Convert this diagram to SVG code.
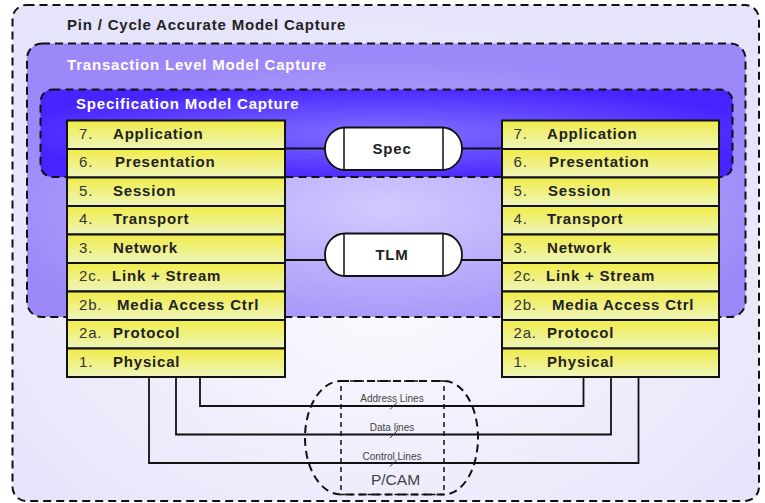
<svg xmlns="http://www.w3.org/2000/svg" width="765" height="503" viewBox="0 0 765 503">
<defs>
<radialGradient id="gOuter" cx="0.5" cy="0.6" r="0.6">
<stop offset="0" stop-color="#fafafe"/>
<stop offset="1" stop-color="#e6e4fa"/>
</radialGradient>
<radialGradient id="gTlm" cx="0.5" cy="0.6" r="0.55">
<stop offset="0" stop-color="#d2caff"/>
<stop offset="1" stop-color="#9c88f8"/>
</radialGradient>
<radialGradient id="gSpec" cx="0.5" cy="0.5" r="0.55">
<stop offset="0" stop-color="#8270ff"/>
<stop offset="1" stop-color="#4624ff"/>
</radialGradient>
<linearGradient id="gRow" x1="0" y1="0" x2="0" y2="1">
<stop offset="0" stop-color="#f1ec48"/>
<stop offset="1" stop-color="#eef5bc"/>
</linearGradient>
<style>
.box{stroke:#111;stroke-width:2;stroke-dasharray:8 5}
.title{font-family:"Liberation Sans",Arial,sans-serif;font-weight:bold;font-size:15px;letter-spacing:0.8px}
.row{fill:url(#gRow);stroke:#111;stroke-width:2}
.num{font-family:"Liberation Sans",Arial,sans-serif;font-size:15px;fill:#333;letter-spacing:0.8px}
.lbl{font-family:"Liberation Sans",Arial,sans-serif;font-weight:bold;font-size:15px;fill:#222;letter-spacing:0.8px}
.pill{fill:#fff;stroke:#111;stroke-width:1.8}
.wire{fill:none;stroke:#111;stroke-width:1.8}
.small{font-family:"Liberation Sans",Arial,sans-serif;font-size:10px;fill:#444}
</style>
</defs>

<g id="pin-cycle">
<rect x="12.5" y="5" width="746.5" height="496" rx="14" fill="url(#gOuter)" class="box"/>
<text x="67" y="29.5" class="title" fill="#222">Pin / Cycle Accurate Model Capture</text>
</g>

<g id="tlm-region">
<rect x="27" y="43.5" width="718.5" height="273.5" rx="15" fill="url(#gTlm)" class="box"/>
<text x="67" y="70" class="title" fill="#fff">Transaction Level Model Capture</text>
</g>

<g id="spec-region">
<rect x="40.5" y="89.5" width="692" height="87.5" rx="12" fill="url(#gSpec)" class="box"/>
<text x="76" y="108.5" class="title" fill="#fff">Specification Model Capture</text>
</g>

<g id="connectors">
<line x1="285" y1="148.5" x2="325" y2="148.5" class="wire"/>
<line x1="462" y1="148.5" x2="502" y2="148.5" class="wire"/>
<line x1="285" y1="260" x2="325" y2="260" class="wire"/>
<line x1="462" y1="260" x2="502" y2="260" class="wire"/>
<polyline points="200,377 200,406 583.5,406 583.5,377" class="wire"/>
<polyline points="176,377 176,434.5 611,434.5 611,377" class="wire"/>
<polyline points="149,377 149,463 638.5,463 638.5,377" class="wire"/>
<line x1="390" y1="409.5" x2="397" y2="402.5" stroke="#333" stroke-width="1"/>
<line x1="390" y1="438" x2="397" y2="431" stroke="#333" stroke-width="1"/>
<line x1="390" y1="466.5" x2="397" y2="459.5" stroke="#333" stroke-width="1"/>
<text x="392" y="401.5" class="small" text-anchor="middle">Address Lines</text>
<text x="392" y="430.5" class="small" text-anchor="middle">Data lines</text>
<text x="392" y="459.5" class="small" text-anchor="middle">Control Lines</text>
</g>

<g id="left-stack">
<rect x="67" y="120.5" width="218" height="28.5" class="row"/>
<rect x="67" y="149" width="218" height="28.5" class="row"/>
<rect x="67" y="177.5" width="218" height="28.5" class="row"/>
<rect x="67" y="206" width="218" height="28.5" class="row"/>
<rect x="67" y="234.5" width="218" height="28.5" class="row"/>
<rect x="67" y="263" width="218" height="28.5" class="row"/>
<rect x="67" y="291.5" width="218" height="28.5" class="row"/>
<rect x="67" y="320" width="218" height="28.5" class="row"/>
<rect x="67" y="348.5" width="218" height="28.5" class="row"/>
<text x="79" y="138.5" class="num">7.</text><text x="113" y="138.5" class="lbl">Application</text>
<text x="79" y="167" class="num">6.</text><text x="115" y="167" class="lbl">Presentation</text>
<text x="79" y="195.5" class="num">5.</text><text x="113" y="195.5" class="lbl">Session</text>
<text x="79" y="224" class="num">4.</text><text x="113" y="224" class="lbl">Transport</text>
<text x="79" y="252.5" class="num">3.</text><text x="113" y="252.5" class="lbl">Network</text>
<text x="79" y="281" class="num">2c.</text><text x="112" y="281" class="lbl">Link + Stream</text>
<text x="79" y="309.5" class="num">2b.</text><text x="117" y="309.5" class="lbl">Media Access Ctrl</text>
<text x="79" y="338" class="num">2a.</text><text x="113" y="338" class="lbl">Protocol</text>
<text x="79" y="366.5" class="num">1.</text><text x="113" y="366.5" class="lbl">Physical</text>
</g>

<g id="right-stack">
<rect x="502" y="120.5" width="217" height="28.5" class="row"/>
<rect x="502" y="149" width="217" height="28.5" class="row"/>
<rect x="502" y="177.5" width="217" height="28.5" class="row"/>
<rect x="502" y="206" width="217" height="28.5" class="row"/>
<rect x="502" y="234.5" width="217" height="28.5" class="row"/>
<rect x="502" y="263" width="217" height="28.5" class="row"/>
<rect x="502" y="291.5" width="217" height="28.5" class="row"/>
<rect x="502" y="320" width="217" height="28.5" class="row"/>
<rect x="502" y="348.5" width="217" height="28.5" class="row"/>
<text x="513.5" y="138.5" class="num">7.</text><text x="547" y="138.5" class="lbl">Application</text>
<text x="513.5" y="167" class="num">6.</text><text x="549" y="167" class="lbl">Presentation</text>
<text x="513.5" y="195.5" class="num">5.</text><text x="548" y="195.5" class="lbl">Session</text>
<text x="513.5" y="224" class="num">4.</text><text x="547" y="224" class="lbl">Transport</text>
<text x="513.5" y="252.5" class="num">3.</text><text x="547" y="252.5" class="lbl">Network</text>
<text x="513.5" y="281" class="num">2c.</text><text x="546" y="281" class="lbl">Link + Stream</text>
<text x="513.5" y="309.5" class="num">2b.</text><text x="552" y="309.5" class="lbl">Media Access Ctrl</text>
<text x="513.5" y="338" class="num">2a.</text><text x="547" y="338" class="lbl">Protocol</text>
<text x="513.5" y="366.5" class="num">1.</text><text x="547" y="366.5" class="lbl">Physical</text>
</g>

<g id="spec-pill">
<rect x="325" y="127.5" width="137" height="42.5" rx="20" ry="21" class="pill"/>
<line x1="344" y1="127.5" x2="344" y2="170" stroke="#111" stroke-width="1.5"/>
<line x1="443" y1="127.5" x2="443" y2="170" stroke="#111" stroke-width="1.5"/>
<text x="392" y="154" class="lbl" text-anchor="middle">Spec</text>
</g>

<g id="tlm-pill">
<rect x="325" y="233.5" width="137" height="42.5" rx="20" ry="21" class="pill"/>
<line x1="344" y1="233.5" x2="344" y2="276" stroke="#111" stroke-width="1.5"/>
<line x1="443" y1="233.5" x2="443" y2="276" stroke="#111" stroke-width="1.5"/>
<text x="392" y="260" class="lbl" text-anchor="middle">TLM</text>
</g>

<g id="pcam">
<rect x="341" y="381" width="103" height="113.5" fill="none" stroke="#111" stroke-width="1.5" stroke-dasharray="5 4"/>
<path d="M341,381 H444 A34,56.75 0 0 1 444,494.5 H341 A36,56.75 0 0 1 341,381 Z" fill="none" stroke="#111" stroke-width="2" stroke-dasharray="8 5"/>
<text x="395.5" y="484.5" font-family="'Liberation Sans',Arial,sans-serif" font-size="15.5" fill="#444" text-anchor="middle">P/CAM</text>
</g>
</svg>
